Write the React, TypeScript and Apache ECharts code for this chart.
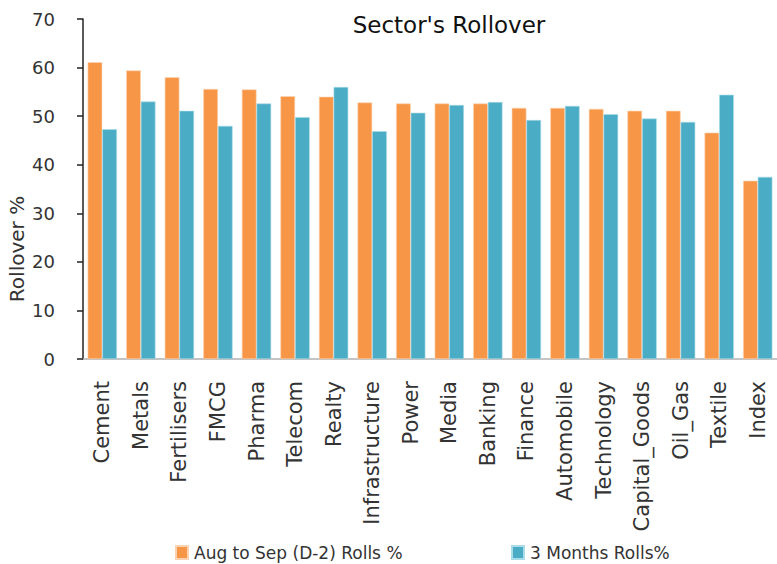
import React, { useEffect, useRef } from "react";
import * as echarts from "echarts";

const categories = [
  "Cement", "Metals", "Fertilisers", "FMCG", "Pharma", "Telecom", "Realty",
  "Infrastructure", "Power", "Media", "Banking", "Finance", "Automobile",
  "Technology", "Capital_Goods", "Oil_Gas", "Textile", "Index",
];
const augToSep = [61.1, 59.4, 58.0, 55.6, 55.5, 54.1, 54.0, 52.8, 52.6, 52.6, 52.6, 51.7, 51.7, 51.5, 51.1, 51.1, 46.6, 36.7];
const threeMonths = [47.3, 53.0, 51.1, 48.0, 52.6, 49.8, 56.0, 46.9, 50.7, 52.3, 52.9, 49.2, 52.1, 50.4, 49.5, 48.8, 54.4, 37.5];
const seriesNames = ["Aug to Sep (D-2) Rolls %", "3 Months Rolls%"];
const yTicks = { min: 0, max: 70, interval: 10 };

const FONT = "DejaVu Sans";

export default function App() {
  const ref = useRef<HTMLDivElement>(null);
  useEffect(() => {
    if (!ref.current) return;
    const chart = echarts.init(ref.current, undefined, { renderer: "svg" });
    const legendBase = {
      top: 544,
      padding: 0,
      itemWidth: 12,
      itemHeight: 13,
      itemGap: 6,
      icon: "rect",
      textStyle: { fontFamily: FONT, fontSize: 17, color: "#333", padding: [0, 0, 0, 1] },
    };
    chart.setOption({
      animation: false,
      textStyle: { fontFamily: FONT },
      title: {
        text: "Sector's Rollover",
        left: 444,
        top: 8,
        textAlign: "center",
        textStyle: { fontFamily: FONT, fontSize: 23, fontWeight: "normal", color: "#111" },
      },
      legend: [
        { ...legendBase, data: [seriesNames[0]], left: 175 },
        { ...legendBase, data: [seriesNames[1]], left: 511 },
      ],
      grid: { left: 83, right: -6, top: 19, bottom: 205, containLabel: false },
      xAxis: {
        type: "category",
        data: categories,
        axisLine: { show: true, lineStyle: { color: "#b0b0b0", width: 1.5 } },
        axisTick: { show: false },
        axisLabel: {
          interval: 0,
          rotate: 90,
          margin: 22,
          fontFamily: FONT,
          fontSize: 21,
          color: "#333",
        },
      },
      yAxis: {
        type: "value",
        min: yTicks.min,
        max: yTicks.max,
        interval: yTicks.interval,
        splitLine: { show: false },
        axisLine: { show: true, lineStyle: { color: "#222", width: 1.5 } },
        axisTick: { show: true, length: 6, lineStyle: { color: "#222", width: 1.5 } },
        axisLabel: { margin: 28, fontFamily: FONT, fontSize: 18, color: "#333" },
      },
      graphic: [
        {
          type: "text",
          x: 17,
          y: 249,
          rotation: Math.PI / 2,
          style: {
            text: "Rollover %",
            fontFamily: FONT,
            fontSize: 20,
            fill: "#333",
            textAlign: "center",
            textVerticalAlign: "middle",
          },
        },
      ],
      series: [
        {
          name: seriesNames[0],
          type: "bar",
          data: augToSep,
          barGap: "0%",
          barCategoryGap: "24%",
          itemStyle: { color: "#F79646", borderColor: "#fbd3b3", borderWidth: 0.6 },
        },
        {
          name: seriesNames[1],
          type: "bar",
          data: threeMonths,
          barGap: "0%",
          barCategoryGap: "24%",
          itemStyle: { color: "#4BACC6", borderColor: "#a9dbe8", borderWidth: 0.6 },
        },
      ],
    });
    return () => chart.dispose();
  }, []);
  return (
    <div
      ref={ref}
      style={{ position: "fixed", left: 0, top: 0, width: 777, height: 564, background: "#fff" }}
    />
  );
}
